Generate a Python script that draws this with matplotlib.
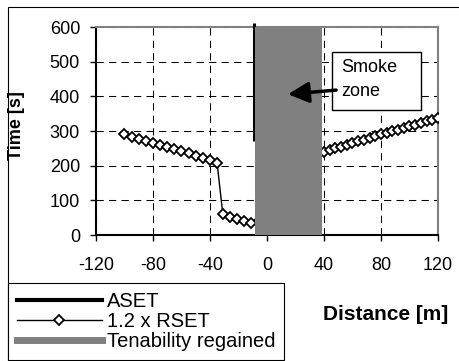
import matplotlib
matplotlib.use("Agg")
import matplotlib.pyplot as plt
from matplotlib.patches import Rectangle
from matplotlib.lines import Line2D

plt.rcParams['font.family'] = ['Liberation Sans', 'DejaVu Sans']

## Data
aset_x = [-9.3, -9.3]
aset_y = [270, 612]

rset_x = [-100, -95, -90, -85, -80, -75, -70, -65, -60, -55, -50, -45, -40, -35,
          -31, -26, -21, -16, -11,
          40, 44, 48, 52, 56, 60, 64, 68, 72, 76, 80, 84, 88, 92, 96, 100, 104, 108, 112, 116, 120]
rset_y = [290, 284, 278, 272, 266, 260, 254, 248, 242, 236, 229, 222, 215, 207,
          60, 52, 46, 40, 35,
          240, 245, 250, 255, 260, 265, 270, 275, 280, 285, 290, 294, 299, 304, 309, 314, 318, 323, 328, 332, 337]

tenable_x = [-8.5, 38.5]
tenable_top = [600, 600]

x_ticks = [-120, -80, -40, 0, 40, 80, 120]
y_ticks = [0, 100, 200, 300, 400, 500, 600]

gray = '#808080'

fig = plt.figure(figsize=(4.6, 3.61), dpi=100)
ax = fig.add_axes([96 / 460, 1 - 235 / 361, 342 / 460, 208 / 361])

## Lines
ax.plot(aset_x, aset_y, color='black', lw=2.2, clip_on=False, zorder=3, solid_capstyle='butt')
ax.plot(rset_x, rset_y, color='black', lw=1, marker='D', markersize=5,
        markerfacecolor='white', markeredgecolor='black', markeredgewidth=1.3, zorder=3)
ax.fill_between(tenable_x, 0, tenable_top, color=gray, lw=0, zorder=4)

ax.set_xlim(-120, 120)
ax.set_ylim(0, 600)
ax.set_xticks(x_ticks)
ax.set_yticks(y_ticks)
ax.set_xticklabels([str(v) for v in x_ticks])
ax.tick_params(axis='both', labelsize=13, direction='out', length=4.5, width=1, color='black')
ax.tick_params(axis='x', pad=11)
ax.tick_params(axis='y', pad=7)

ax.grid(True, color='black', lw=0.75, linestyle=(0, (7, 5)))
ax.set_axisbelow(True)

for s in ['left', 'bottom']:
    ax.spines[s].set_color('black')
    ax.spines[s].set_linewidth(1.5)
for s in ['top', 'right']:
    ax.spines[s].set_color(gray)
    ax.spines[s].set_linewidth(1.5)

ax.set_ylabel('Time [s]', fontsize=13, fontweight='bold')
ax.yaxis.set_label_coords(-0.2076, 0.524)
fig.text(386 / 460, 1 - 315 / 361, 'Distance [m]', fontsize=15, fontweight='bold',
         ha='center', va='center')

## Smoke zone box and arrow
ax.add_patch(Rectangle((0.690, 0.601), 0.260, 0.279, transform=ax.transAxes,
                       facecolor='white', edgecolor='black', lw=1, zorder=5, clip_on=False))
ax.text(0.716, 0.748, 'Smoke\nzone', transform=ax.transAxes, fontsize=13,
        ha='left', va='center', linespacing=1.5, zorder=6)
ax.annotate('', xy=(14.7, 406), xytext=(48.5, 418),
            arrowprops=dict(arrowstyle='-|>,head_length=0.9,head_width=0.45', color='black',
                            lw=2.5, mutation_scale=14, shrinkA=0, shrinkB=0), zorder=6)

## Figure border
fig.patches.append(Rectangle((8 / 460, -0.1), 1.2, (1 - 7 / 361) + 0.1, transform=fig.transFigure,
                             facecolor='none', edgecolor='black', lw=0.8))

## Legend
handles = [Line2D([], [], color='black', lw=3),
           Line2D([], [], color='black', lw=1, marker='D', markersize=5,
                  markerfacecolor='white', markeredgecolor='black', markeredgewidth=1.3),
           Line2D([], [], color=gray, lw=5)]
labels = ['ASET', '1.2 x RSET', 'Tenability regained']
leg = fig.legend(handles, labels, loc='upper left', bbox_to_anchor=(8 / 460, 1 - 283 / 361),
                 borderaxespad=0, fontsize=14.5, frameon=True, fancybox=False,
                 edgecolor='black', framealpha=1, handlelength=4.2, handletextpad=0.25,
                 labelspacing=0.05, borderpad=0.45)
leg.get_frame().set_linewidth(0.8)

fig.savefig('out.png', dpi=100)
